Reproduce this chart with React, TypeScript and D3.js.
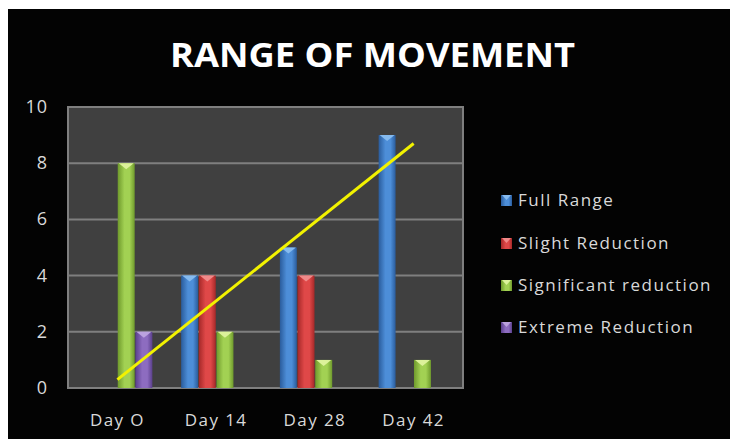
import React from "react";
import { scaleBand, scaleLinear, line, mean, sum } from "d3";

// chart data
const days = ["Day O", "Day 14", "Day 28", "Day 42"];
const seriesNames = [
  "Full Range",
  "Slight Reduction",
  "Significant reduction",
  "Extreme Reduction",
];
const fullRange = [0, 4, 5, 9];
const slightReduction = [0, 4, 4, 0];
const significantReduction = [8, 2, 1, 1];
const extremeReduction = [2, 0, 0, 0];
const yTicks = [0, 2, 4, 6, 8, 10];

const allSeries = [fullRange, slightReduction, significantReduction, extremeReduction];

// colours per series: dark edge, light centre, bevel tip
const palette = [
  { id: "gBlue", dark: "#2a5c9c", light: "#4d8ed8", tip: "#86bbef" },
  { id: "gRed", dark: "#a52828", light: "#df4848", tip: "#f08a8a" },
  { id: "gGreen", dark: "#6f9a2c", light: "#a2d153", tip: "#dcf29a" },
  { id: "gPurple", dark: "#5a3f8c", light: "#8d6cc0", tip: "#bba2df" },
];

const W = 730;
const H = 439;
const plot = { left: 68, right: 463, top: 107, bottom: 388 };
const font = "'Open Sans', sans-serif";

export default function App() {
  const xScale = scaleBand().domain(days).range([plot.left, plot.right]).padding(0);
  const step = xScale.bandwidth();
  const groupW = 70;
  const inner = scaleBand()
    .domain(seriesNames)
    .range([(step - groupW) / 2, (step + groupW) / 2])
    .paddingInner(0.04);
  const yScale = scaleLinear().domain([0, 10]).range([plot.bottom, plot.top]);

  // linear trendline on Full Range (Excel style)
  const xs = days.map((_, i) => i);
  const mx = mean(xs) as number;
  const my = mean(fullRange) as number;
  const slope =
    (sum(xs, (x, i) => (x - mx) * (fullRange[i] - my)) as number) /
    (sum(xs, (x) => (x - mx) * (x - mx)) as number);
  const icpt = my - slope * mx;
  const trendPts: [number, number][] = [0, days.length - 1].map((i) => [
    (xScale(days[i]) as number) + step / 2,
    yScale(icpt + slope * i),
  ]);
  const trendPath = line()(trendPts) as string;

  const bw = inner.bandwidth();

  return (
    <svg
      width={W}
      height={H}
      style={{ position: "absolute", left: 0, top: 0, display: "block" }}
    >
      <defs>
        {palette.map((p) => (
          <linearGradient key={p.id} id={p.id} x1="0" x2="1" y1="0" y2="0">
            <stop offset="0" stopColor={p.dark} />
            <stop offset="0.4" stopColor={p.light} />
            <stop offset="0.7" stopColor={p.light} />
            <stop offset="1" stopColor={p.dark} />
          </linearGradient>
        ))}
      </defs>
      <rect x={0} y={0} width={W} height={H} fill="#ffffff" />
      <rect x={8} y={9} width={W - 8} height={H - 9} fill="#030303" />

      <text
        x={372.5}
        y={67}
        textAnchor="middle"
        fill="#ffffff"
        fontFamily={font}
        fontWeight="bold"
        fontSize={34}
        textLength={405}
        lengthAdjust="spacingAndGlyphs"
      >
        RANGE OF MOVEMENT
      </text>

      {/* plot area */}
      <rect
        x={plot.left}
        y={plot.top}
        width={plot.right - plot.left}
        height={plot.bottom - plot.top}
        fill="#404040"
        stroke="#7f7f7f"
        strokeWidth={2}
      />
      {yTicks.map((t) => (
        <g key={t}>
          <line
            x1={plot.left}
            x2={plot.right}
            y1={yScale(t)}
            y2={yScale(t)}
            stroke="#7f7f7f"
            strokeWidth={2}
          />
          <text
            x={48}
            y={yScale(t) + 6}
            textAnchor="end"
            fill="#d9d9d9"
            fontFamily={font}
            fontSize={18}
            letterSpacing={1}
          >
            {t}
          </text>
        </g>
      ))}

      {/* bars */}
      {days.map((d, di) => (
        <g key={d} transform={`translate(${xScale(d)},0)`}>
          {allSeries.map((vals, si) => {
            const v = vals[di];
            if (!v) return null;
            const x = inner(seriesNames[si]) as number;
            const y = yScale(v);
            const p = palette[si];
            return (
              <g key={si}>
                <rect
                  x={x}
                  y={y}
                  width={bw}
                  height={plot.bottom - y}
                  fill={`url(#${p.id})`}
                />
                <path
                  d={`M${x + 1},${y}L${x + bw - 1},${y}L${x + bw / 2},${y + 6}Z`}
                  fill={p.tip}
                />
              </g>
            );
          })}
        </g>
      ))}

      <path d={trendPath} stroke="#f2f200" strokeWidth={3} fill="none" />

      {/* x labels */}
      {days.map((d) => (
        <text
          key={d}
          x={(xScale(d) as number) + step / 2}
          y={426}
          textAnchor="middle"
          fill="#d9d9d9"
          fontFamily={font}
          fontSize={17}
          letterSpacing={1.4}
        >
          {d}
        </text>
      ))}

      {/* legend */}
      {seriesNames.map((name, i) => {
        const cy = [200, 243, 285, 327][i];
        const p = palette[i];
        return (
          <g key={name}>
            <rect x={501} y={cy - 5} width={11} height={11} fill={`url(#${p.id})`} />
            <path d={`M502,${cy - 5}L511,${cy - 5}L506.5,${cy}Z`} fill={p.tip} />
            <text
              x={518}
              y={cy + 6}
              fill="#d9d9d9"
              fontFamily={font}
              fontSize={17}
              letterSpacing={1.5}
            >
              {name}
            </text>
          </g>
        );
      })}
    </svg>
  );
}
